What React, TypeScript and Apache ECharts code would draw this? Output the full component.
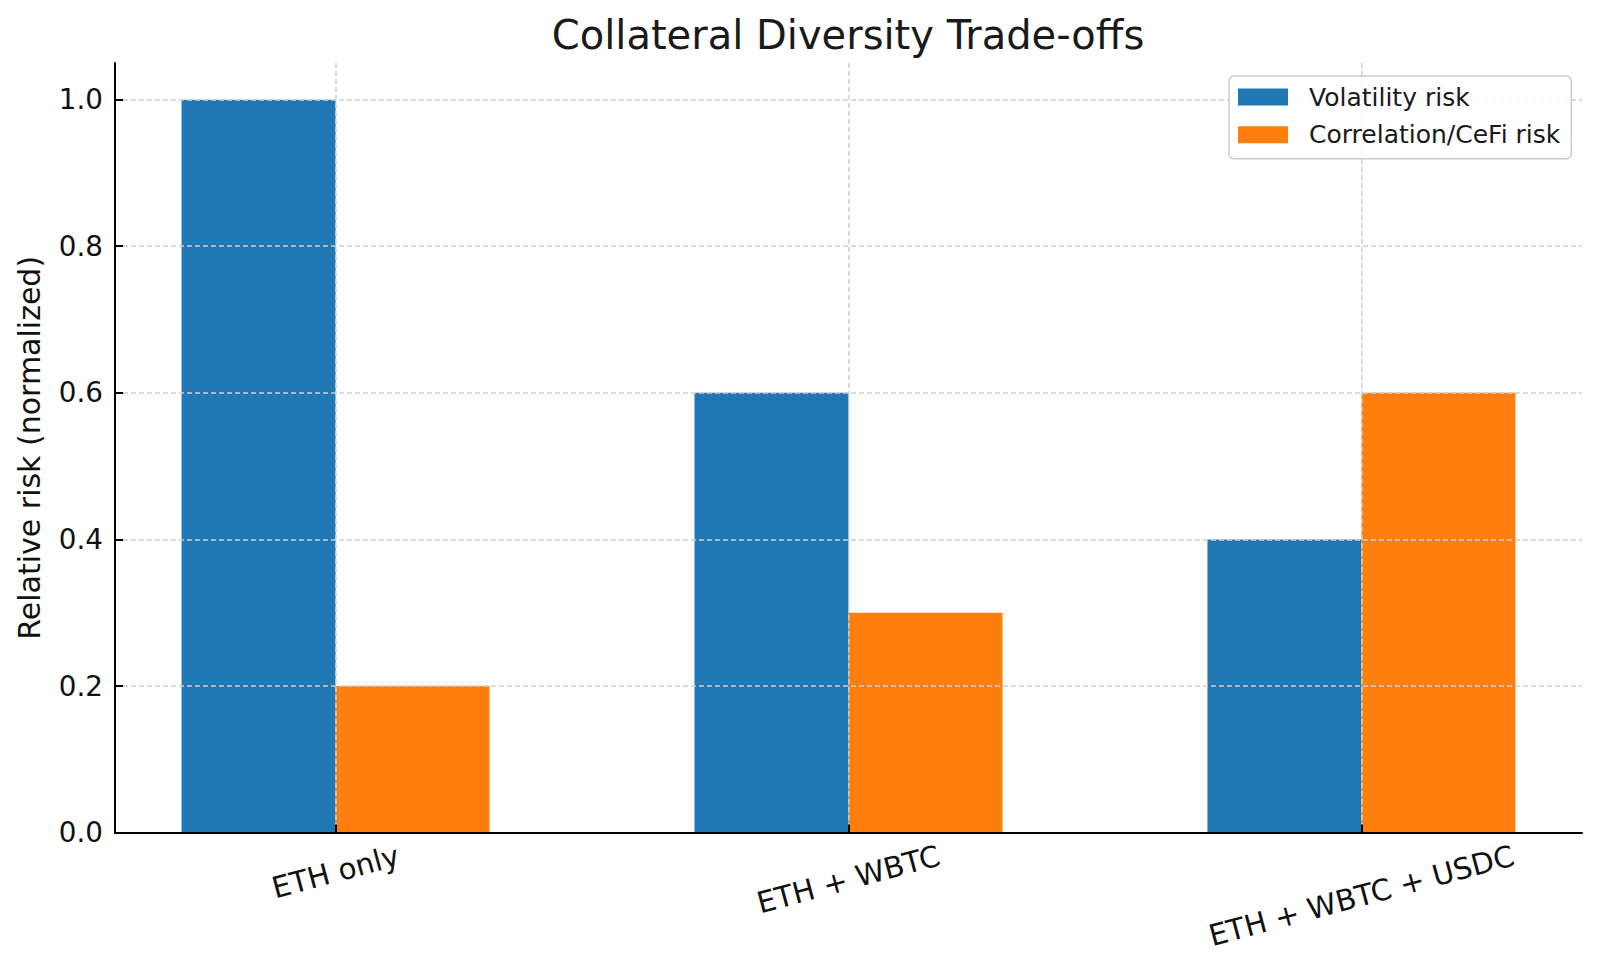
import React, { useEffect, useRef } from "react";
import * as echarts from "echarts";

const title = "Collateral Diversity Trade-offs";
const yAxisName = "Relative risk (normalized)";
const categories = ["ETH only", "ETH + WBTC", "ETH + WBTC + USDC"];
const seriesNames = ["Volatility risk", "Correlation/CeFi risk"];
const volatilityRisk = [1.0, 0.6, 0.4];
const correlationRisk = [0.2, 0.3, 0.6];
const yTicks = [0, 0.2, 0.4, 0.6, 0.8, 1.0];
const xTicks = [0, 1, 2];

const FONT = "DejaVu Sans";
const X_FS = 29.4;
const ROT = 15;

function measureText(t: string, size: number) {
  const c = document.createElement("canvas").getContext("2d");
  if (!c) return t.length * size * 0.6;
  c.font = `${size}px "${FONT}"`;
  return c.measureText(t).width;
}

export default function App() {
  const ref = useRef<HTMLDivElement>(null);

  useEffect(() => {
    if (!ref.current) return;
    const chart = echarts.init(ref.current, undefined, { renderer: "svg" });

    // matplotlib-like placement: rotated label bounding box top-aligned, centred on tick
    const sinR = Math.sin((ROT * Math.PI) / 180);
    const cosR = Math.cos((ROT * Math.PI) / 180);
    const rich: Record<string, any> = {};
    categories.forEach((c, i) => {
      const w = measureText(c, X_FS);
      const s = (w * sinR) / 2;
      rich["l" + i] = {
        fontFamily: FONT,
        fontSize: X_FS,
        color: "#111",
        padding: [2 * s * cosR, 2 * s * sinR, 0, 0],
      };
    });

    const gridLine = { show: true, lineStyle: { color: "#cfcfcf", width: 1.5, type: [5, 3] } };

    chart.setOption({
      animation: false,
      backgroundColor: "#ffffff",
      title: {
        text: title,
        left: 848,
        top: 15,
        textAlign: "center",
        padding: 0,
        textStyle: { fontFamily: FONT, fontSize: 40, fontWeight: "normal", color: "#1a1a1a" },
      },
      legend: {
        orient: "vertical",
        left: 1229,
        top: 76,
        z: 10,
        padding: [8, 11, 11, 9],
        itemWidth: 50,
        itemHeight: 17,
        itemGap: 11.7,
        icon: "rect",
        backgroundColor: "rgba(255,255,255,0.85)",
        borderColor: "#cccccc",
        borderWidth: 1.5,
        borderRadius: 5,
        textStyle: {
          fontFamily: FONT,
          fontSize: 25,
          lineHeight: 26,
          color: "#1a1a1a",
          padding: [0, 0, 0, 16],
        },
        data: seriesNames,
      },
      grid: { left: 115, right: 18, top: 63, bottom: 138.4, containLabel: false },
      xAxis: {
        type: "value",
        min: -0.43,
        max: 2.43,
        z: 5,
        axisLine: { show: true, onZero: false, lineStyle: { color: "#000", width: 2 } },
        axisTick: { show: true, inside: true, length: 8, customValues: xTicks, lineStyle: { color: "#000", width: 2 } },
        axisLabel: {
          customValues: xTicks,
          rotate: ROT,
          align: "center",
          verticalAlign: "middle",
          margin: 22.6,
          fontFamily: FONT,
          fontSize: X_FS,
          color: "#111",
          formatter: (v: number) => {
            const i = Math.round(v);
            return categories[i] !== undefined ? `{l${i}|${categories[i]}}` : "";
          },
          rich,
        },
        splitLine: gridLine,
      },
      yAxis: {
        type: "value",
        min: 0,
        max: 1.05,
        z: 5,
        name: yAxisName,
        nameLocation: "middle",
        nameRotate: 90,
        nameGap: 71,
        nameTextStyle: { fontFamily: FONT, fontSize: 30, color: "#111" },
        axisLine: { show: true, onZero: false, lineStyle: { color: "#000", width: 2 } },
        axisTick: { show: true, inside: true, length: 8, customValues: yTicks, lineStyle: { color: "#000", width: 2 } },
        axisLabel: {
          customValues: yTicks,
          margin: 12,
          fontFamily: FONT,
          fontSize: 27.8,
          color: "#111",
          formatter: (v: number) => v.toFixed(1),
        },
        splitLine: gridLine,
      },
      series: [
        {
          name: seriesNames[0],
          type: "bar",
          barWidth: 154,
          barGap: "0%",
          itemStyle: { color: "#1f77b4" },
          data: categories.map((_, i) => [i, volatilityRisk[i]]),
        },
        {
          name: seriesNames[1],
          type: "bar",
          barWidth: 154,
          barGap: "0%",
          itemStyle: { color: "#ff7f0e" },
          data: categories.map((_, i) => [i, correlationRisk[i]]),
        },
      ],
    });

    return () => chart.dispose();
  }, []);

  return (
    <div
      ref={ref}
      style={{ position: "fixed", left: 0, top: 0, width: 1600, height: 971, background: "#fff" }}
    />
  );
}
